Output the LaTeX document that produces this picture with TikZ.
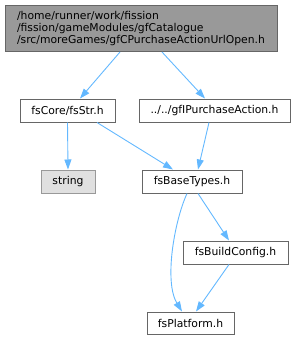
\documentclass[tikz,border=0pt]{standalone}
\usepackage{fontspec}
\setmainfont{DejaVu Sans}
\usetikzlibrary{arrows.meta}
\definecolor{edgeblue}{HTML}{63B8FF}
\definecolor{boxgray}{HTML}{666666}
\definecolor{topfill}{HTML}{999999}
\definecolor{extfill}{HTML}{E0E0E0}
\definecolor{extdraw}{HTML}{999999}
\begin{document}
\begin{tikzpicture}[x=1pt,y=-1pt,
  filebox/.style={draw=boxgray,fill=white,line width=1pt,inner sep=0pt,
    font=\fontsize{10.8}{12}\selectfont,text=black},
  extbox/.style={filebox,draw=extdraw,fill=extfill},
  mainbox/.style={filebox,fill=topfill},
  dep/.style={draw=edgeblue,line width=0.9pt,-{Triangle[length=10pt,width=7pt]}}]
\useasboundingbox (0,0) rectangle (295,340);
\node[mainbox,minimum width=272pt,minimum height=46pt,align=left] (top) at (141,28.5)
  {/home/runner/work/fission\\/fission/gameModules/gfCatalogue\\/src/moreGames/gfCPurchaseActionUrlOpen.h};
\node[filebox,minimum width=95pt,minimum height=23pt] (str) at (67.5,110.5) {fsCore/fsStr.h};
\node[filebox,minimum width=151pt,minimum height=23pt] (gfi) at (214.5,110.5) {../../gfIPurchaseAction.h};
\node[extbox,minimum width=54pt,minimum height=23pt] (string) at (68,181.5) {string};
\node[filebox,minimum width=100pt,minimum height=23pt] (base) at (192,181.5) {fsBaseTypes.h};
\node[filebox,minimum width=105pt,minimum height=23pt] (build) at (235.5,252.5) {fsBuildConfig.h};
\node[filebox,minimum width=87pt,minimum height=22pt] (plat) at (190.5,323) {fsPlatform.h};
\draw[dep] ([xshift=-21pt]top.south) -- ([xshift=12.5pt]str.north);
\draw[dep] ([xshift=21pt]top.south) -- ([xshift=-9.5pt]gfi.north);
\draw[dep] (str.south) -- (string.north);
\draw[dep] ([xshift=29.5pt]str.south) -- ([xshift=-19pt]base.north);
\draw[dep] ([xshift=-5.5pt]gfi.south) -- ([xshift=6pt]base.north);
\draw[dep] ([xshift=-5pt]base.south) .. controls (174,222) and (164,282) .. ([xshift=-8.5pt]plat.north);
\draw[dep] ([xshift=6pt]base.south) -- ([xshift=-6.5pt]build.north);
\draw[dep] ([xshift=-6.5pt]build.south) -- ([xshift=5.5pt]plat.north);
\end{tikzpicture}
\end{document}
